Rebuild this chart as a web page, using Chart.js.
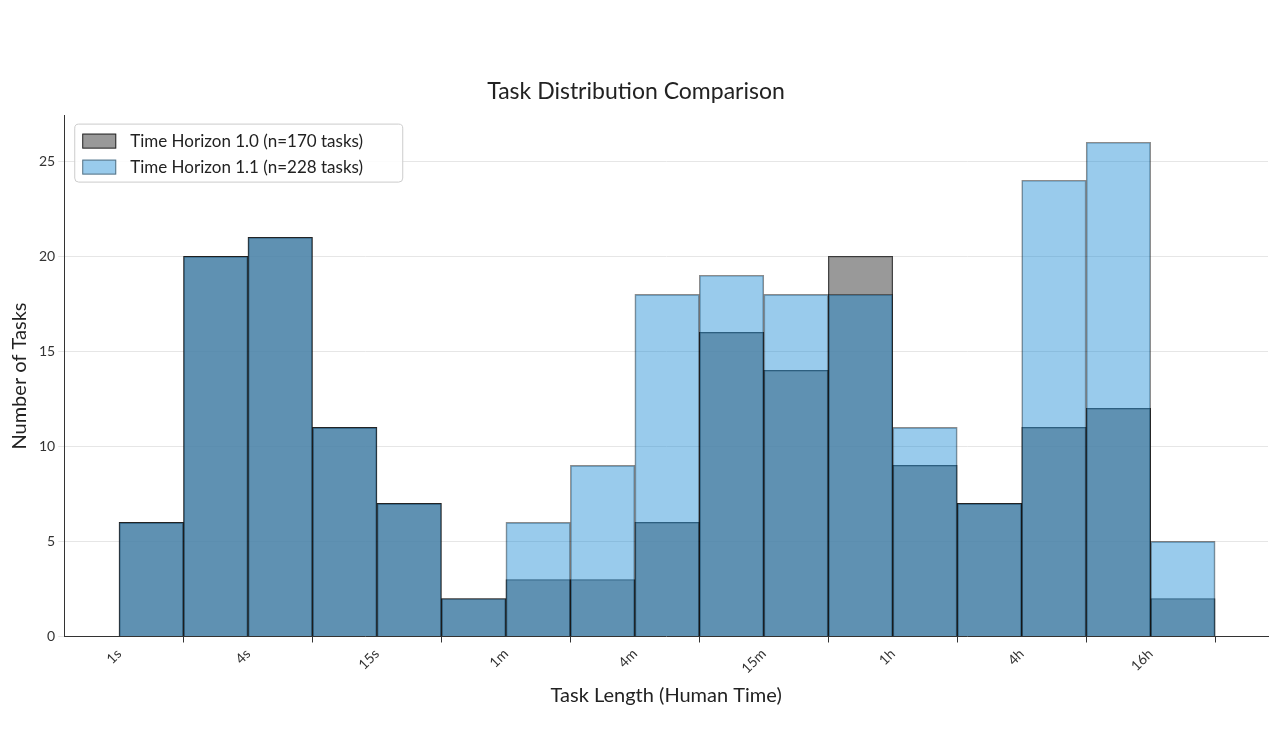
<!DOCTYPE html>
<html><head><meta charset="utf-8">
<script src="https://cdn.jsdelivr.net/npm/chart.js@4/dist/chart.umd.min.js"></script>
<style>html,body{margin:0;background:#fff}#w{width:1280px;height:740px}</style>
</head><body><div id="w"><canvas id="c"></canvas></div>
<script>
// bins edges: 1s,2s,4s,8s,15s,30s,1m,2m,4m,8m,15m,30m,1h,2h,4h,8h,16h,32h
const binIndex = [0,1,2,3,4,5,6,7,8,9,10,11,12,13,14,15,16];
const tickPositions = [0,2,4,6,8,10,12,14,16];
const tickLabels = ['1s','4s','15s','1m','4m','15m','1h','4h','16h'];
const v10 = [6,20,21,11,7,2,3,3,6,16,14,20,9,7,11,12,2];
const v11 = [6,20,21,11,7,2,6,9,18,19,18,18,11,7,24,26,5];
const labels = ['Time Horizon 1.0 (n=170 tasks)','Time Horizon 1.1 (n=228 tasks)'];
const FONT = 'Lato, "Open Sans", sans-serif';
const pts = a => a.map((y,i)=>({x:binIndex[i]+0.5,y}));
const legendPlugin = {id:'inLegend',afterDraw(ch){
  const c=ch.ctx, x0=ch.chartArea.left+10, y0=ch.chartArea.top+8;
  c.save();
  c.fillStyle='rgba(255,255,255,0.85)'; c.strokeStyle='#ccc'; c.lineWidth=1;
  c.beginPath(); c.roundRect(x0+0.5,y0+0.5,328,58,4); c.fill(); c.stroke();
  ch.data.datasets.forEach((d,i)=>{
    const yy=y0+10+i*26;
    c.fillStyle='#fff'; c.fillRect(x0+8,yy,34,15);
    c.fillStyle=d.backgroundColor; c.fillRect(x0+8,yy,34,15);
    c.strokeStyle=d.borderColor; c.strokeRect(x0+8.5,yy+0.5,33,14);
    c.fillStyle='#222'; c.font='17px '+FONT; c.textBaseline='middle';
    c.fillText(labels[i],x0+56,yy+8);
  });
  c.restore();
}};
new Chart(document.getElementById('c'),{
  type:'bar',
  data:{datasets:[
    {label:labels[0],data:pts(v10),backgroundColor:'rgba(128,128,128,0.8)',borderColor:'rgba(0,0,0,0.75)',borderWidth:1,grouped:false,barPercentage:1,categoryPercentage:1,order:2},
    {label:labels[1],data:pts(v11),backgroundColor:'rgba(19,134,211,0.43)',borderColor:'rgba(0,0,0,0.45)',borderWidth:1,grouped:false,barPercentage:1,categoryPercentage:1,order:1}
  ]},
  options:{
    responsive:true,maintainAspectRatio:false,animation:false,
    layout:{padding:{left:4,right:12,top:78,bottom:28}},
    plugins:{legend:{display:false},tooltip:{enabled:false},
      title:{display:true,text:'Task Distribution Comparison',color:'#222',font:{family:FONT,size:23,weight:'normal'},padding:{top:0,bottom:10}}},
    scales:{
      x:{type:'linear',min:-0.85,max:17.82,offset:false,
        afterBuildTicks:s=>{s.ticks=tickPositions.map(v=>({value:v}));},
        ticks:{autoSkip:false,maxRotation:45,minRotation:45,color:'#333',font:{family:FONT,size:14},
          callback:v=>{const k=tickPositions.indexOf(v);return k>=0?tickLabels[k]:'';}},
        grid:{display:true,drawOnChartArea:false,drawTicks:true,tickLength:6,color:'#333'},
        border:{color:'#333'},
        title:{display:true,text:'Task Length (Human Time)',color:'#222',font:{family:FONT,size:20},padding:{top:4}}},
      y:{min:0,max:27.4,
        afterBuildTicks:s=>{s.ticks=[0,5,10,15,20,25].map(v=>({value:v}));},
        ticks:{color:'#333',font:{family:FONT,size:14}},
        grid:{color:'#e6e6e6',tickLength:6},
        border:{color:'#333'},
        title:{display:true,text:'Number of Tasks',color:'#222',font:{family:FONT,size:20}}}
    }
  },
  plugins:[legendPlugin]
});
</script></body></html>
